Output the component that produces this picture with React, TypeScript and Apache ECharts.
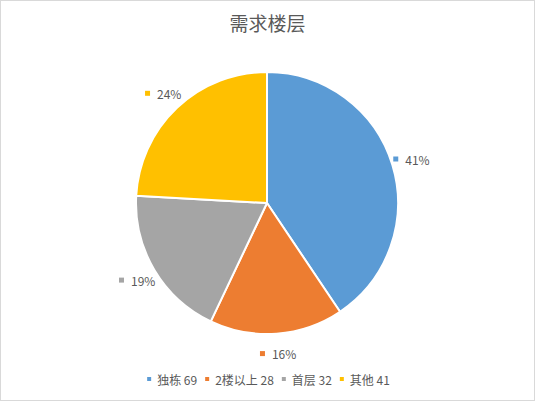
import { useRef, useEffect } from 'react'
import * as echarts from 'echarts'

// ── 数据 ──────────────────────────────────────────────────────────
const categories = ['独栋', '2楼以上', '首层', '其他']
const counts = [69, 28, 32, 41]
const colors = ['#5B9BD5', '#ED7D31', '#A5A5A5', '#FFC000']

const FONT = '"Noto Sans CJK SC", "Open Sans", sans-serif'
const TEXT = '#595959'

function buildOption(): echarts.EChartsOption {
  const names = categories.map((c, i) => `${c} ${counts[i]}`)

  const sliceData = names.map((n, i) => ({
    name: n,
    value: counts[i],
    itemStyle: { color: colors[i] },
  }))

  // 透明外环，只用来放百分比标签（标签居中于环的中线）
  const labelData = names.map((n, i) => ({
    name: n,
    value: counts[i],
    itemStyle: { color: 'transparent', borderWidth: 0 },
    label: {
      show: true,
      position: 'inside',
      formatter: '{m|}{t|{d}%}',
      rich: {
        m: { width: 5, height: 5, backgroundColor: colors[i] },
        t: { color: TEXT, fontSize: 12, fontFamily: FONT, padding: [0, 0, 0, 7] },
      },
    },
  }))

  return {
    animation: false,
    backgroundColor: '#ffffff',
    title: {
      text: '需求楼层',
      left: 'center',
      top: 8,
      textStyle: { color: TEXT, fontSize: 19, fontWeight: 'normal', fontFamily: FONT },
    },
    legend: {
      top: 373,
      left: 'center',
      padding: 0,
      icon: 'rect',
      itemWidth: 6,
      itemHeight: 6,
      itemGap: 6,
      selectedMode: false,
      data: names,
      textStyle: { color: TEXT, fontSize: 12, fontFamily: FONT },
    },
    series: [
      {
        name: '需求楼层',
        type: 'pie',
        center: [267, 203],
        radius: 131,
        startAngle: 90,
        clockwise: true,
        silent: true,
        label: { show: false },
        labelLine: { show: false },
        itemStyle: { borderColor: '#ffffff', borderWidth: 2 },
        data: sliceData,
      },
      {
        name: 'labels',
        type: 'pie',
        center: [267, 203],
        radius: [136, 160],
        startAngle: 90,
        clockwise: true,
        silent: true,
        percentPrecision: 0,
        labelLine: { show: false },
        data: labelData,
      },
    ],
  } as echarts.EChartsOption
}

export default function App() {
  const ref = useRef<HTMLDivElement>(null)

  useEffect(() => {
    document.body.style.margin = '0'
    if (!ref.current) return
    const chart = echarts.init(ref.current, undefined, { renderer: 'svg' })
    chart.setOption(buildOption())
    return () => chart.dispose()
  }, [])

  return (
    <div style={{ position: 'relative', width: 535, height: 401 }}>
      <div ref={ref} style={{ position: 'absolute', left: 0, top: 0, width: 535, height: 401 }} />
      <div
        style={{
          position: 'absolute', left: 0, top: 0, width: 535, height: 401,
          boxSizing: 'border-box', border: '1px solid #D9D9D9', pointerEvents: 'none',
        }}
      />
    </div>
  )
}
